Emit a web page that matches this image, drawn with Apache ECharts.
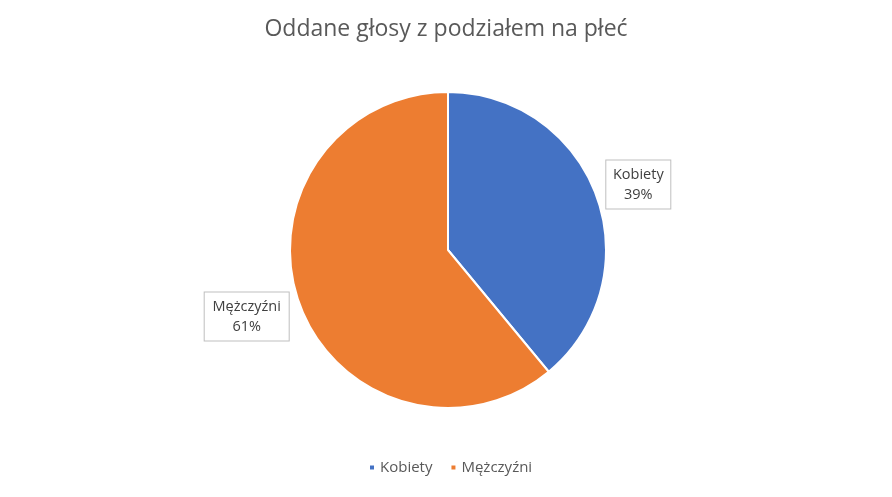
<!DOCTYPE html>
<html>
<head>
<meta charset="utf-8">
<script src="https://cdn.jsdelivr.net/npm/echarts@6/dist/echarts.min.js"></script>
<style>
	html, body { margin: 0; padding: 0; background: #fff; }
	#chart { width: 892px; height: 497px; }
</style>
</head>
<body>
<div id="chart"></div>
<script>
	// dane
	let categories = ['Kobiety', 'Mężczyźni'];
	let values = [39, 61];
	let colors = ['#4472C4', '#ED7D31'];
	let labelOffsets = [[-5, -10], [4, 11]];
	let labelWidths = [52, 72];

	let pieData = [];
	for (let i = 0; i < categories.length; i++) {
		pieData.push({
			name: categories[i],
			value: values[i],
			itemStyle: { color: colors[i] },
			label: {
				offset: labelOffsets[i],
				rich: {
					t: {
						width: labelWidths[i],
						align: 'center',
						fontFamily: 'Open Sans',
						fontSize: 14.5,
						lineHeight: 20,
						color: '#404040'
					}
				}
			}
		});
	}

	let chart = echarts.init(document.getElementById('chart'));
	chart.setOption({
		animation: false,
		title: {
			text: 'Oddane głosy z podziałem na płeć',
			left: 'center',
			top: 13,
			textStyle: {
				fontFamily: 'Open Sans',
				fontSize: 23,
				fontWeight: 'normal',
				color: '#595959'
			}
		},
		legend: {
			data: categories,
			bottom: 17,
			left: 363,
			icon: 'rect',
			itemWidth: 6,
			itemHeight: 6,
			itemGap: 17,
			textStyle: {
				fontFamily: 'Open Sans',
				fontSize: 15,
				color: '#595959'
			}
		},
		series: [{
			type: 'pie',
			center: [448, 250],
			radius: [0, 158],
			startAngle: 90,
			clockwise: true,
			data: pieData,
			itemStyle: {
				borderColor: '#fff',
				borderWidth: 2
			},
			label: {
				show: true,
				position: 'outside',
				formatter: '{t|{b}}\n{t|{d}%}',
				backgroundColor: '#fff',
				borderColor: '#bfbfbf',
				borderWidth: 1,
				padding: [4, 6]
			},
			labelLine: {
				show: false,
				length: 6,
				length2: 4
			},
			emphasis: { disabled: true }
		}]
	});
</script>
</body>
</html>
